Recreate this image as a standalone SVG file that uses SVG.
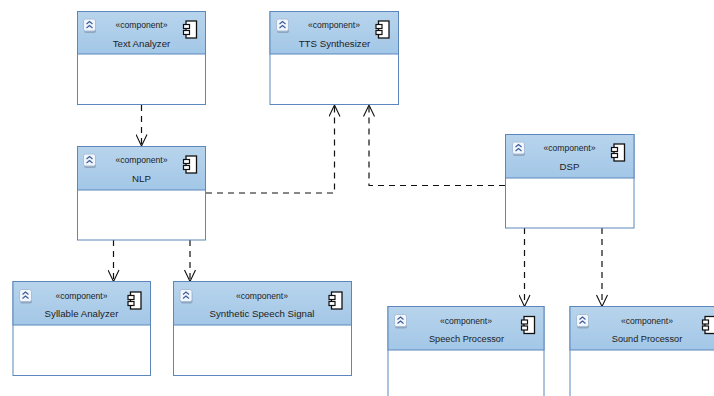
<svg xmlns="http://www.w3.org/2000/svg" width="714" height="396" viewBox="0 0 714 396">
<style>
.box{fill:#fff;stroke:#5b87bd;stroke-width:1}
.head{fill:url(#hd);stroke:#5b87bd;stroke-width:1}
text{font-family:"Liberation Sans",Arial,sans-serif;fill:#222;text-anchor:middle}
.st{font-size:8.6px}
.nm{font-size:9.7px}
.nm2{font-size:9.2px}
.dep{fill:none;stroke:#111;stroke-width:1.2;stroke-dasharray:6 5}
.arr{fill:none;stroke:#111;stroke-width:1.1}
</style>
<defs>
<linearGradient id="hd" x1="0" y1="0" x2="0" y2="1"><stop offset="0" stop-color="#b8d4ec"/><stop offset="1" stop-color="#a3c7e7"/></linearGradient>
<marker id="open" markerUnits="userSpaceOnUse" markerWidth="14" markerHeight="12" refX="12.500" refY="6" orient="auto" viewBox="0 0 14 12"><path class="arr" d="M1 0.5L12.500 6L1 11.500"/></marker>
<g id="comp"><rect x="3" y="0.5" width="10.5" height="17" fill="#fff" stroke="#111" stroke-width="1.3"/><rect x="0.5" y="4" width="6" height="4" fill="#fff" stroke="#111" stroke-width="1.2"/><rect x="0.5" y="10" width="6" height="4" fill="#fff" stroke="#111" stroke-width="1.2"/></g>
<g id="ico"><rect x="0.500" y="2" width="12" height="12" rx="2" fill="#8fa6bf"/><rect x="0" y="0" width="12" height="12" rx="2" fill="#f1f6fc" stroke="#a9bfd8" stroke-width="1"/><path d="M3 5L6 2.500L9 5M3 9L6 6.500L9 9" fill="none" stroke="#3a5a9c" stroke-width="1.100"/></g>
</defs>
<g id="connectors">
<path class="dep" d="M141.500 105V146" marker-end="url(#open)"/>
<path class="dep" d="M206 193H334.500V105" marker-end="url(#open)"/>
<path class="dep" d="M505 185.500H369V105" marker-end="url(#open)"/>
<path class="dep" d="M113.500 240V281.500" marker-end="url(#open)"/>
<path class="dep" d="M190 240V281.500" marker-end="url(#open)"/>
<path class="dep" d="M524.500 228V306.500" marker-end="url(#open)"/>
<path class="dep" d="M602 228V306.500" marker-end="url(#open)"/>
</g>
<g id="text-analyzer"><rect class="box" x="77.500" y="11.500" width="128" height="93"/><rect class="head" x="77.500" y="11.500" width="128" height="42.500"/><use href="#ico" x="83.500" y="19"/><use href="#comp" x="183" y="20.500"/><text class="st" x="141.500" y="28">«component»</text><text class="nm" x="141.500" y="46.500">Text Analyzer</text></g>
<g id="tts-synthesizer"><rect class="box" x="270" y="11.500" width="128.500" height="93"/><rect class="head" x="270" y="11.500" width="128.500" height="42.500"/><use href="#ico" x="276.500" y="19"/><use href="#comp" x="375.500" y="20.500"/><text class="st" x="334" y="28">«component»</text><text class="nm" x="334.500" y="46.500">TTS Synthesizer</text></g>
<g id="nlp"><rect class="box" x="77.500" y="146.500" width="128" height="93.500"/><rect class="head" x="77.500" y="146.500" width="128" height="43.500"/><use href="#ico" x="83.500" y="154"/><use href="#comp" x="183" y="155.500"/><text class="st" x="141.500" y="163">«component»</text><text class="nm" x="141.500" y="181.500">NLP</text></g>
<g id="dsp"><rect class="box" x="505.500" y="134.500" width="128.500" height="93.500"/><rect class="head" x="505.500" y="134.500" width="128.500" height="43.500"/><use href="#ico" x="512.500" y="142"/><use href="#comp" x="611" y="143.500"/><text class="st" x="569.500" y="151">«component»</text><text class="nm" x="569.500" y="169.500">DSP</text></g>
<g id="syllable-analyzer"><rect class="box" x="13" y="281.500" width="137.500" height="94"/><rect class="head" x="13" y="281.500" width="137.500" height="43.500"/><use href="#ico" x="19.500" y="289.500"/><use href="#comp" x="127.500" y="291.500"/><text class="st" x="81.500" y="299">«component»</text><text class="nm" x="81.500" y="317">Syllable Analyzer</text></g>
<g id="synthetic-speech-signal"><rect class="box" x="173.500" y="281.500" width="178" height="94"/><rect class="head" x="173.500" y="281.500" width="178" height="43.500"/><use href="#ico" x="180" y="289.500"/><use href="#comp" x="328.500" y="291.500"/><text class="st" x="262" y="299">«component»</text><text class="nm" x="262" y="317">Synthetic Speech Signal</text></g>
<g id="speech-processor"><rect class="box" x="388" y="306.500" width="156" height="94"/><rect class="head" x="388" y="306.500" width="156" height="43.500"/><use href="#ico" x="394.500" y="314.500"/><use href="#comp" x="521" y="316"/><text class="st" x="466" y="324">«component»</text><text class="nm2" x="466.500" y="341.500">Speech Processor</text></g>
<g id="sound-processor"><rect class="box" x="570" y="306.500" width="156" height="94"/><rect class="head" x="570" y="306.500" width="156" height="43.500"/><use href="#ico" x="576.500" y="314.500"/><use href="#comp" x="702" y="316"/><text class="st" x="647" y="324">«component»</text><text class="nm2" x="647" y="341.500">Sound Processor</text></g>
</svg>
